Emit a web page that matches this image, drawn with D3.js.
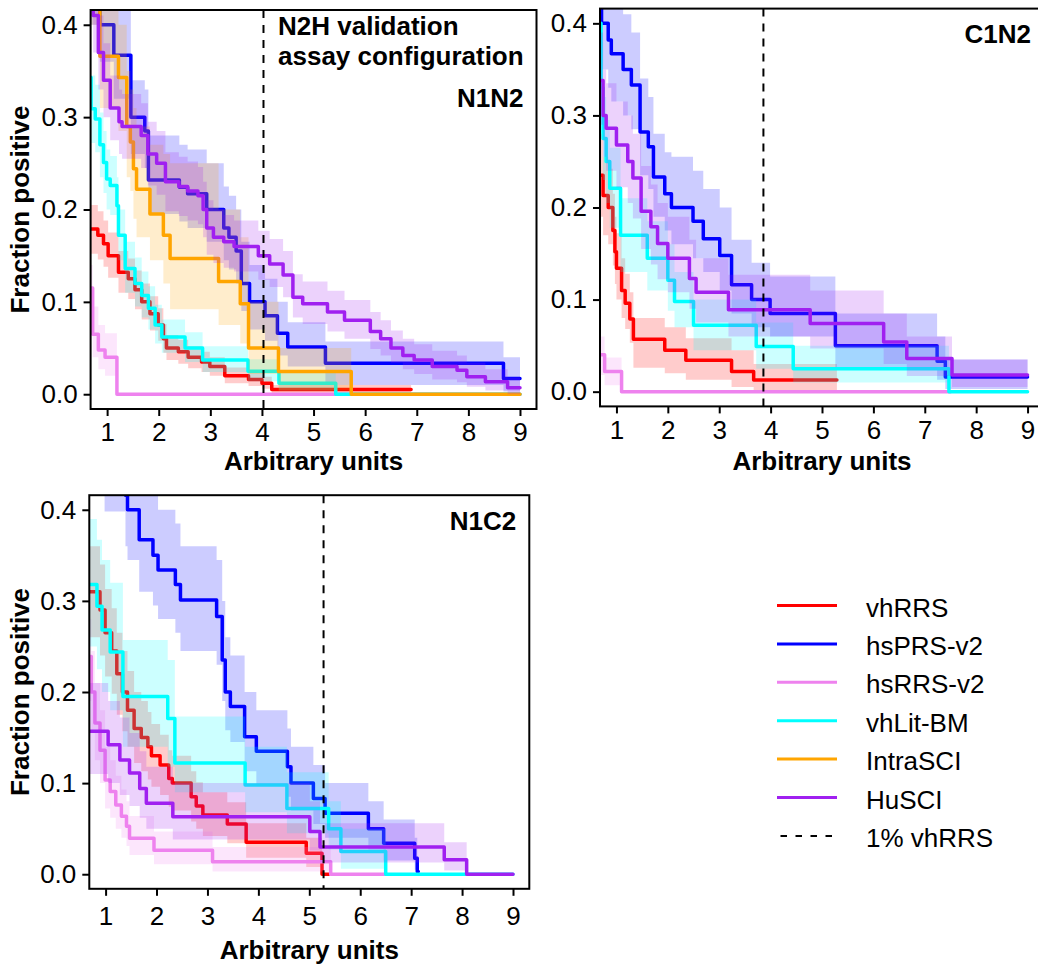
<!DOCTYPE html>
<html>
<head>
<meta charset="utf-8">
<script src="https://cdn.jsdelivr.net/npm/d3@7"></script>
<style>
  body { margin: 0; background: #fff; }
  svg { display: block; }
</style>
</head>
<body>
<svg id="chart" width="1038" height="970"></svg>
<script>
const X_TICKS = [1, 2, 3, 4, 5, 6, 7, 8, 9];
const Y_TICKS = [0, 0.1, 0.2, 0.3, 0.4];
const SERIES = ['vhRRS', 'hsPRS-v2', 'hsRRS-v2', 'vhLit-BM', 'IntraSCI', 'HuSCI'];
const COLORS = ['#ff0000', '#0000ff', '#ee82ee', '#00ffff', '#ffa500', '#a020f0'];
const PANEL_NAMES = ['N1N2', 'C1N2', 'N1C2'];
const CUTOFFS = [4.03, 3.86, 5.28]; // 1% vhRRS threshold

// ---- N1N2 ----
const n1n2_vhRRS_x  = [0.68, 0.82, 0.93, 1.02, 1.22, 1.41, 1.54, 1.67, 1.83, 1.99, 2.09, 2.15, 2.38, 2.57, 2.83, 2.99, 3.28, 3.74, 4.0, 4.19, 6.89];
const n1n2_vhRRS_y  = [0.179, 0.172, 0.163, 0.15, 0.132, 0.125, 0.113, 0.1, 0.087, 0.075, 0.06, 0.05, 0.046, 0.04, 0.035, 0.03, 0.02, 0.016, 0.012, 0.005];
const n1n2_vhRRS_lo = [0.152, 0.146, 0.138, 0.126, 0.11, 0.103, 0.092, 0.081, 0.069, 0.058, 0.045, 0.037, 0.033, 0.028, 0.024, 0.02, 0.012, 0.009, 0.006, 0.001];
const n1n2_vhRRS_hi = [0.205, 0.198, 0.188, 0.175, 0.155, 0.147, 0.134, 0.12, 0.106, 0.093, 0.076, 0.064, 0.059, 0.052, 0.046, 0.04, 0.029, 0.024, 0.019, 0.01];

const n1n2_hsPRS_x  = [0.68, 0.86, 1.13, 1.46, 1.73, 1.8, 2.4, 2.56, 2.93, 3.26, 3.36, 3.5, 3.6, 3.76, 4.06, 4.3, 4.5, 5.23, 8.68, 9.0];
const n1n2_hsPRS_y  = [0.45, 0.4, 0.367, 0.3, 0.285, 0.232, 0.224, 0.217, 0.2, 0.18, 0.17, 0.155, 0.12, 0.1, 0.085, 0.066, 0.051, 0.0335, 0.017];
const n1n2_hsPRS_lo = [0.4, 0.36, 0.32, 0.26, 0.245, 0.195, 0.187, 0.18, 0.165, 0.145, 0.135, 0.12, 0.09, 0.07, 0.058, 0.042, 0.03, 0.01, 0.003];
const n1n2_hsPRS_hi = [0.5, 0.48, 0.44, 0.34, 0.33, 0.28, 0.27, 0.265, 0.25, 0.225, 0.215, 0.2, 0.165, 0.14, 0.125, 0.1, 0.078, 0.057, 0.04];

const n1n2_hsRRS_x  = [0.68, 0.72, 0.83, 0.96, 1.19, 9.0];
const n1n2_hsRRS_y  = [0.115, 0.065, 0.048, 0.04, 0.0];
const n1n2_hsRRS_lo = [0.085, 0.04, 0.027, 0.02, 0.0];
const n1n2_hsRRS_hi = [0.14, 0.095, 0.075, 0.066, 0.0];

const n1n2_vhLit_x  = [0.68, 0.69, 0.77, 0.86, 0.93, 0.99, 1.06, 1.19, 1.22, 1.35, 1.54, 1.67, 1.8, 1.93, 2.06, 2.51, 2.85, 3.73, 4.33, 5.43, 9.0];
const n1n2_vhLit_y  = [0.343, 0.309, 0.298, 0.27, 0.251, 0.233, 0.226, 0.204, 0.172, 0.136, 0.12, 0.107, 0.093, 0.075, 0.062, 0.05, 0.037, 0.025, 0.012, 0.0];
const n1n2_vhLit_lo = [0.305, 0.272, 0.262, 0.235, 0.218, 0.2, 0.194, 0.173, 0.145, 0.11, 0.095, 0.083, 0.07, 0.055, 0.045, 0.035, 0.024, 0.014, 0.004, 0.0];
const n1n2_vhLit_hi = [0.38, 0.345, 0.335, 0.305, 0.285, 0.265, 0.258, 0.235, 0.2, 0.165, 0.148, 0.133, 0.117, 0.097, 0.081, 0.067, 0.052, 0.038, 0.023, 0.0];

const n1n2_intra_x  = [0.68, 0.86, 1.22, 1.38, 1.45, 1.51, 1.57, 1.83, 2.09, 2.22, 3.16, 3.58, 3.74, 4.32, 5.73, 9.0];
const n1n2_intra_y  = [0.45, 0.366, 0.343, 0.29, 0.273, 0.244, 0.222, 0.195, 0.172, 0.147, 0.122, 0.098, 0.05, 0.0245, 0.0];
const n1n2_intra_lo = [0.4, 0.31, 0.285, 0.235, 0.22, 0.19, 0.17, 0.145, 0.12, 0.092, 0.075, 0.055, 0.022, 0.004, 0.0];
const n1n2_intra_hi = [0.5, 0.42, 0.4, 0.35, 0.33, 0.31, 0.29, 0.27, 0.26, 0.25, 0.2, 0.17, 0.1, 0.05, 0.0];

const n1n2_huSCI_x  = [0.68, 0.73, 0.83, 0.93, 1.06, 1.23, 1.29, 1.66, 1.79, 1.96, 2.13, 2.39, 2.56, 2.76, 2.86, 2.93, 3.06, 3.26, 3.46, 3.93, 4.15, 4.41, 4.6, 4.79, 5.27, 5.6, 6.1, 6.3, 6.5, 6.73, 6.95, 7.3, 7.78, 7.97, 8.33, 8.76, 9.0];
const n1n2_huSCI_y  = [0.45, 0.41, 0.37, 0.34, 0.31, 0.295, 0.29, 0.28, 0.26, 0.25, 0.23, 0.225, 0.22, 0.215, 0.2, 0.18, 0.17, 0.165, 0.16, 0.15, 0.141, 0.129, 0.105, 0.098, 0.089, 0.08, 0.068, 0.06, 0.05, 0.042, 0.037, 0.03, 0.026, 0.019, 0.0136, 0.007];
const n1n2_huSCI_lo = [0.41, 0.37, 0.33, 0.3, 0.275, 0.26, 0.255, 0.245, 0.226, 0.216, 0.198, 0.193, 0.188, 0.184, 0.17, 0.151, 0.142, 0.137, 0.133, 0.124, 0.116, 0.105, 0.083, 0.076, 0.068, 0.06, 0.049, 0.042, 0.034, 0.027, 0.022, 0.016, 0.013, 0.008, 0.004, 0.0];
const n1n2_huSCI_hi = [0.49, 0.45, 0.41, 0.38, 0.345, 0.33, 0.325, 0.315, 0.295, 0.285, 0.262, 0.257, 0.252, 0.246, 0.23, 0.21, 0.2, 0.194, 0.188, 0.177, 0.168, 0.155, 0.13, 0.122, 0.112, 0.102, 0.089, 0.08, 0.069, 0.06, 0.054, 0.047, 0.042, 0.034, 0.027, 0.018];

// ---- C1N2 ----
const c1n2_vhRRS_x  = [0.68, 0.74, 0.84, 0.93, 0.97, 1.0, 1.1, 1.17, 1.26, 1.33, 1.94, 2.35, 3.24, 3.67, 5.29];
const c1n2_vhRRS_y  = [0.235, 0.213, 0.2, 0.175, 0.152, 0.134, 0.11, 0.096, 0.079, 0.057, 0.045, 0.034, 0.022, 0.0127];
const c1n2_vhRRS_lo = [0.19, 0.17, 0.16, 0.137, 0.117, 0.1, 0.08, 0.068, 0.053, 0.026, 0.02, 0.013, 0.005, 0.0];
const c1n2_vhRRS_hi = [0.28, 0.255, 0.242, 0.215, 0.19, 0.172, 0.145, 0.128, 0.108, 0.08, 0.07, 0.058, 0.045, 0.03];

const c1n2_hsPRS_x  = [0.68, 0.71, 0.84, 0.9, 1.13, 1.29, 1.46, 1.62, 1.72, 1.94, 2.07, 2.49, 2.69, 3.01, 3.24, 3.63, 3.99, 5.26, 7.24, 7.4, 9.0];
const c1n2_hsPRS_y  = [0.45, 0.4, 0.382, 0.367, 0.35, 0.333, 0.282, 0.266, 0.233, 0.215, 0.2, 0.185, 0.166, 0.148, 0.116, 0.1, 0.085, 0.05, 0.033, 0.016];
const c1n2_hsPRS_lo = [0.4, 0.35, 0.33, 0.315, 0.3, 0.285, 0.235, 0.22, 0.19, 0.175, 0.16, 0.145, 0.13, 0.11, 0.085, 0.07, 0.06, 0.025, 0.013, 0.003];
const c1n2_hsPRS_hi = [0.5, 0.46, 0.44, 0.43, 0.41, 0.39, 0.34, 0.32, 0.28, 0.26, 0.255, 0.24, 0.22, 0.2, 0.165, 0.14, 0.125, 0.085, 0.06, 0.035];

const c1n2_hsRRS_x  = [0.68, 0.77, 1.1, 7.5];
const c1n2_hsRRS_y  = [0.04, 0.022, 0.0];
const c1n2_hsRRS_lo = [0.018, 0.007, 0.0];
const c1n2_hsRRS_hi = [0.06, 0.037, 0.0];

const c1n2_vhLit_x  = [0.68, 0.7, 0.74, 0.8, 0.87, 1.08, 1.6, 2.0, 2.13, 2.5, 3.72, 4.44, 7.47, 9.0];
const c1n2_vhLit_y  = [0.4, 0.33, 0.275, 0.25, 0.221, 0.17, 0.145, 0.121, 0.098, 0.072, 0.049, 0.025, 0.0];
const c1n2_vhLit_lo = [0.35, 0.28, 0.23, 0.205, 0.178, 0.13, 0.11, 0.088, 0.07, 0.045, 0.025, 0.01, 0.0];
const c1n2_vhLit_hi = [0.45, 0.38, 0.32, 0.295, 0.265, 0.21, 0.185, 0.16, 0.13, 0.1, 0.075, 0.05, 0.0];

const c1n2_huSCI_x  = [0.68, 0.74, 0.8, 1.0, 1.22, 1.32, 1.48, 1.67, 1.8, 2.0, 2.42, 2.55, 3.18, 4.77, 6.2, 6.65, 7.53, 9.0];
const c1n2_huSCI_y  = [0.338, 0.3, 0.286, 0.268, 0.25, 0.232, 0.196, 0.179, 0.161, 0.145, 0.123, 0.108, 0.089, 0.074, 0.054, 0.036, 0.018];
const c1n2_huSCI_lo = [0.29, 0.255, 0.24, 0.222, 0.205, 0.188, 0.155, 0.138, 0.122, 0.108, 0.09, 0.075, 0.06, 0.047, 0.03, 0.017, 0.005];
const c1n2_huSCI_hi = [0.39, 0.35, 0.335, 0.315, 0.3, 0.28, 0.245, 0.225, 0.205, 0.19, 0.165, 0.145, 0.127, 0.11, 0.085, 0.06, 0.035];

// ---- N1C2 ----
const n1c2_vhRRS_x  = [0.68, 0.89, 0.99, 1.12, 1.22, 1.33, 1.43, 1.56, 1.7, 1.83, 1.9, 2.07, 2.24, 2.31, 2.68, 2.78, 2.91, 3.39, 3.76, 4.94, 5.25, 5.38];
const n1c2_vhRRS_y  = [0.31, 0.29, 0.265, 0.245, 0.22, 0.2, 0.18, 0.16, 0.15, 0.14, 0.13, 0.12, 0.105, 0.1, 0.085, 0.075, 0.065, 0.055, 0.035, 0.023, 0.0];
const n1c2_vhRRS_lo = [0.26, 0.24, 0.217, 0.198, 0.175, 0.157, 0.14, 0.122, 0.113, 0.104, 0.096, 0.087, 0.074, 0.07, 0.058, 0.05, 0.042, 0.034, 0.018, 0.008, 0.0];
const n1c2_vhRRS_hi = [0.36, 0.34, 0.313, 0.292, 0.265, 0.245, 0.223, 0.2, 0.19, 0.178, 0.165, 0.153, 0.136, 0.13, 0.113, 0.101, 0.09, 0.079, 0.056, 0.04, 0.0];

const n1c2_hsPRS_x  = [0.68, 0.98, 1.39, 1.43, 1.66, 1.93, 2.03, 2.37, 2.47, 3.18, 3.29, 3.35, 3.45, 3.73, 3.96, 4.57, 4.64, 5.08, 5.31, 6.16, 6.46, 7.07, 7.12, 7.14];
const n1c2_hsPRS_y  = [0.5, 0.5, 0.416, 0.4, 0.367, 0.35, 0.334, 0.318, 0.301, 0.283, 0.235, 0.2, 0.184, 0.151, 0.135, 0.118, 0.1, 0.083, 0.067, 0.05, 0.034, 0.0175, 0.003];
const n1c2_hsPRS_lo = [0.45, 0.398, 0.36, 0.345, 0.31, 0.295, 0.28, 0.265, 0.245, 0.23, 0.19, 0.158, 0.145, 0.113, 0.098, 0.085, 0.07, 0.055, 0.04, 0.027, 0.015, 0.005, 0.0];
const n1c2_hsPRS_hi = [0.5, 0.5, 0.5, 0.47, 0.44, 0.42, 0.4, 0.385, 0.36, 0.345, 0.3, 0.26, 0.24, 0.2, 0.18, 0.16, 0.14, 0.12, 0.1, 0.08, 0.06, 0.04, 0.02];

const n1c2_hsRRS_x  = [0.68, 0.72, 0.79, 0.89, 0.99, 1.09, 1.2, 1.31, 1.41, 1.47, 1.95, 3.1, 5.42, 6.5];
const n1c2_hsRRS_y  = [0.239, 0.2, 0.166, 0.136, 0.1035, 0.0907, 0.076, 0.0636, 0.0527, 0.0395, 0.0264, 0.0138, 0.0];
const n1c2_hsRRS_lo = [0.19, 0.155, 0.125, 0.1, 0.072, 0.062, 0.05, 0.04, 0.031, 0.021, 0.011, 0.003, 0.0];
const n1c2_hsRRS_hi = [0.28, 0.245, 0.21, 0.18, 0.14, 0.125, 0.108, 0.093, 0.08, 0.064, 0.047, 0.03, 0.0];

const n1c2_vhLit_x  = [0.68, 0.83, 0.93, 1.09, 1.34, 2.22, 2.36, 3.74, 4.56, 5.38, 5.62, 6.5, 9.0];
const n1c2_vhLit_y  = [0.318, 0.294, 0.268, 0.244, 0.195, 0.171, 0.122, 0.098, 0.072, 0.05, 0.025, 0.0];
const n1c2_vhLit_lo = [0.25, 0.225, 0.2, 0.18, 0.14, 0.118, 0.09, 0.068, 0.045, 0.027, 0.006, 0.0];
const n1c2_vhLit_hi = [0.39, 0.367, 0.345, 0.32, 0.257, 0.235, 0.173, 0.14, 0.112, 0.08, 0.05, 0.0];

const n1c2_huSCI_x  = [0.68, 1.05, 1.28, 1.47, 1.67, 1.8, 2.32, 5.01, 5.21, 7.65, 8.09, 9.0];
const n1c2_huSCI_y  = [0.157, 0.142, 0.1255, 0.111, 0.094, 0.078, 0.063, 0.047, 0.03, 0.016, 0.0];
const n1c2_huSCI_lo = [0.11, 0.1, 0.087, 0.075, 0.062, 0.05, 0.038, 0.026, 0.013, 0.004, 0.0];
const n1c2_huSCI_hi = [0.21, 0.19, 0.172, 0.155, 0.135, 0.118, 0.1, 0.08, 0.056, 0.035, 0.0];

// series tables per panel, in legend order (null = not measured)
const s = (x, y, lo, hi) => ({ x, y, lo, hi });
const panelSeries = [
  [s(n1n2_vhRRS_x, n1n2_vhRRS_y, n1n2_vhRRS_lo, n1n2_vhRRS_hi),
   s(n1n2_hsPRS_x, n1n2_hsPRS_y, n1n2_hsPRS_lo, n1n2_hsPRS_hi),
   s(n1n2_hsRRS_x, n1n2_hsRRS_y, n1n2_hsRRS_lo, n1n2_hsRRS_hi),
   s(n1n2_vhLit_x, n1n2_vhLit_y, n1n2_vhLit_lo, n1n2_vhLit_hi),
   s(n1n2_intra_x, n1n2_intra_y, n1n2_intra_lo, n1n2_intra_hi),
   s(n1n2_huSCI_x, n1n2_huSCI_y, n1n2_huSCI_lo, n1n2_huSCI_hi)],
  [s(c1n2_vhRRS_x, c1n2_vhRRS_y, c1n2_vhRRS_lo, c1n2_vhRRS_hi),
   s(c1n2_hsPRS_x, c1n2_hsPRS_y, c1n2_hsPRS_lo, c1n2_hsPRS_hi),
   s(c1n2_hsRRS_x, c1n2_hsRRS_y, c1n2_hsRRS_lo, c1n2_hsRRS_hi),
   s(c1n2_vhLit_x, c1n2_vhLit_y, c1n2_vhLit_lo, c1n2_vhLit_hi),
   null,
   s(c1n2_huSCI_x, c1n2_huSCI_y, c1n2_huSCI_lo, c1n2_huSCI_hi)],
  [s(n1c2_vhRRS_x, n1c2_vhRRS_y, n1c2_vhRRS_lo, n1c2_vhRRS_hi),
   s(n1c2_hsPRS_x, n1c2_hsPRS_y, n1c2_hsPRS_lo, n1c2_hsPRS_hi),
   s(n1c2_hsRRS_x, n1c2_hsRRS_y, n1c2_hsRRS_lo, n1c2_hsRRS_hi),
   s(n1c2_vhLit_x, n1c2_vhLit_y, n1c2_vhLit_lo, n1c2_vhLit_hi),
   null,
   s(n1c2_huSCI_x, n1c2_huSCI_y, n1c2_huSCI_lo, n1c2_huSCI_hi)]
];

const FONT = '"Liberation Sans", Arial, Helvetica, sans-serif';
const LAYOUT = [
  { left: 90.6, right: 536.5, top: 10, bottom: 409, xPad: 7, yTitle: true, xTitleY: 470, labelY: 107 },
  { left: 600, right: 1044, top: 8.6, bottom: 406.4, xPad: 7, yTitle: false, xTitleY: 470, labelY: 43 },
  { left: 89.3, right: 529.3, top: 495.2, bottom: 888.8, xPad: 10.5, yTitle: true, xTitleY: 959, labelY: 530 }
];

const svg = d3.select('#chart');

LAYOUT.forEach((L, pi) => {
  const x = d3.scaleLinear().domain([0.68, 9.32]).range([L.left, L.right]);
  const y = d3.scaleLinear().domain([-0.016, 0.416]).range([L.bottom, L.top]);
  const g = svg.append('g');

  svg.append('clipPath').attr('id', 'clip' + pi)
    .append('rect')
    .attr('x', L.left).attr('y', L.top)
    .attr('width', L.right - L.left).attr('height', L.bottom - L.top);

  const plot = g.append('g').attr('clip-path', `url(#clip${pi})`);

  const area = d3.area().curve(d3.curveStepAfter)
    .x(d => x(d.x)).y0(d => y(d.lo)).y1(d => y(d.hi));
  const line = d3.line().curve(d3.curveStepAfter)
    .x(d => x(d.x)).y(d => y(d.y));

  panelSeries[pi].forEach((ser, si) => {
    if (!ser) return;
    const last = ser.y.length - 1;
    const pts = ser.x.map((xv, i) => {
      const k = Math.min(i, last);
      return { x: xv, y: ser.y[k], lo: ser.lo[k], hi: ser.hi[k] };
    });
    plot.append('path').datum(pts)
      .attr('d', area)
      .attr('fill', COLORS[si])
      .attr('fill-opacity', 0.2);
    plot.append('path').datum(pts)
      .attr('d', line)
      .attr('fill', 'none')
      .attr('stroke', COLORS[si])
      .attr('stroke-width', 3.5)
      .attr('stroke-linejoin', 'round')
      .attr('stroke-linecap', 'round');
  });

  // 1% vhRRS cutoff
  plot.append('line')
    .attr('x1', x(CUTOFFS[pi])).attr('x2', x(CUTOFFS[pi]))
    .attr('y1', L.top).attr('y2', L.bottom)
    .attr('stroke', '#000').attr('stroke-width', 2)
    .attr('stroke-dasharray', '8,7');

  // frame
  g.append('rect')
    .attr('x', L.left).attr('y', L.top)
    .attr('width', L.right - L.left).attr('height', L.bottom - L.top)
    .attr('fill', 'none').attr('stroke', '#000').attr('stroke-width', 2);

  const styleAxis = a => {
    a.select('.domain').remove();
    a.selectAll('line').attr('stroke', '#000').attr('stroke-width', 2);
    a.selectAll('text').attr('font-size', 26).attr('font-family', FONT).attr('fill', '#000');
  };

  g.append('g')
    .attr('transform', `translate(0,${L.bottom})`)
    .call(d3.axisBottom(x).tickValues(X_TICKS).tickSize(7).tickPadding(L.xPad).tickFormat(d3.format('d')))
    .call(styleAxis);

  g.append('g')
    .attr('transform', `translate(${L.left},0)`)
    .call(d3.axisLeft(y).tickValues(Y_TICKS).tickSize(7).tickPadding(6).tickFormat(d3.format('.1f')))
    .call(styleAxis);

  g.append('text')
    .attr('x', (L.left + L.right) / 2).attr('y', L.xTitleY)
    .attr('text-anchor', 'middle')
    .attr('font-family', FONT).attr('font-size', 26).attr('font-weight', 'bold')
    .text('Arbitrary units');

  if (L.yTitle) {
    g.append('text')
      .attr('transform', `translate(29,${(L.top + L.bottom) / 2}) rotate(-90)`)
      .attr('text-anchor', 'middle')
      .attr('font-family', FONT).attr('font-size', 26).attr('font-weight', 'bold')
      .text('Fraction positive');
  }

  g.append('text')
    .attr('x', L.right - 13).attr('y', L.labelY)
    .attr('text-anchor', 'end')
    .attr('font-family', FONT).attr('font-size', 26).attr('font-weight', 'bold')
    .text(PANEL_NAMES[pi]);
});

// heading inside first panel
svg.append('g').selectAll('text')
  .data(['N2H validation', 'assay configuration'])
  .enter().append('text')
  .attr('x', 278)
  .attr('y', (d, i) => 35 + i * 30)
  .attr('font-family', FONT).attr('font-size', 26).attr('font-weight', 'bold')
  .text(d => d);

// legend
const legendItems = SERIES.map((name, i) => ({ name, color: COLORS[i], dash: null }))
  .concat([{ name: '1% vhRRS', color: '#000', dash: '6.5,8.5' }]);

const legend = svg.append('g').selectAll('g')
  .data(legendItems)
  .enter().append('g')
  .attr('transform', (d, i) => `translate(0,${605.5 + i * 38.4})`);

legend.append('line')
  .attr('x1', d => d.dash ? 780.5 : 777)
  .attr('x2', d => d.dash ? 832 : 837)
  .attr('stroke', d => d.color)
  .attr('stroke-width', d => d.dash ? 2 : 3)
  .attr('stroke-dasharray', d => d.dash);

legend.append('text')
  .attr('x', 866).attr('y', 11)
  .attr('font-family', FONT).attr('font-size', 26)
  .text(d => d.name);
</script>
</body>
</html>
